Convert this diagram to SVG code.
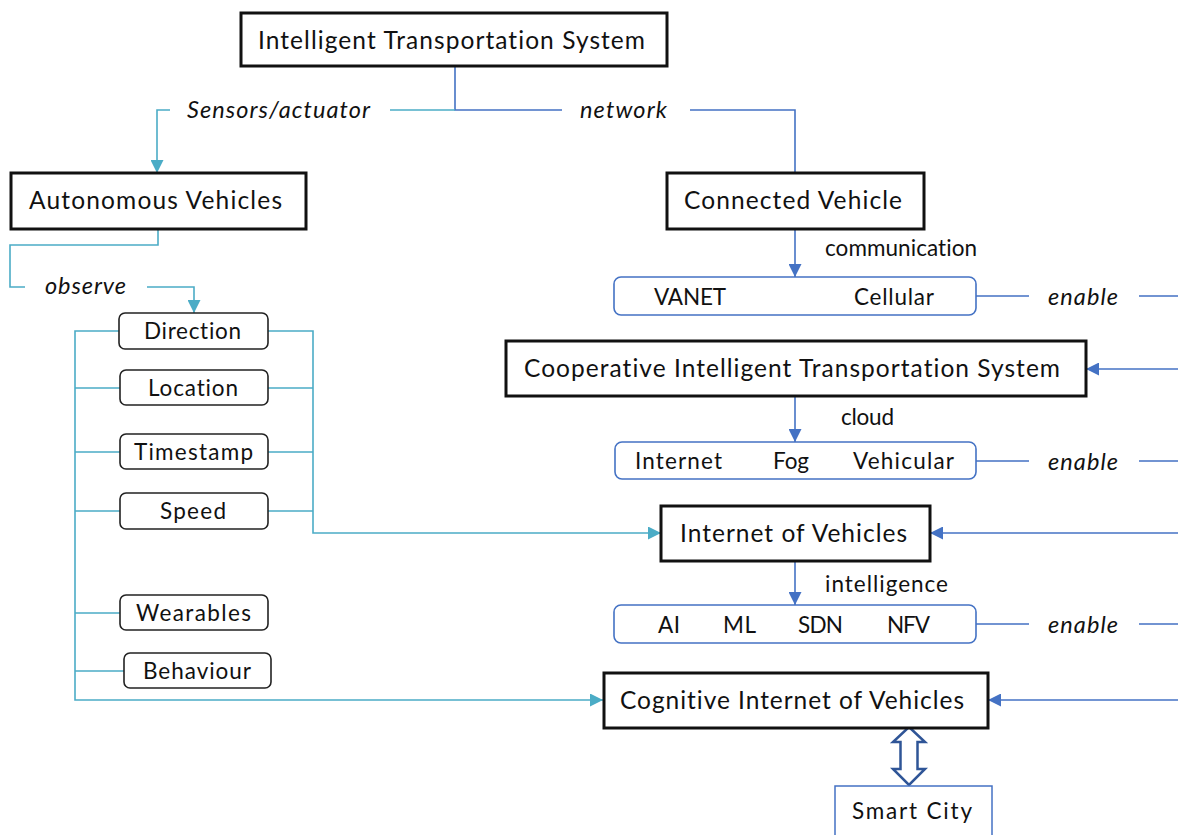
<svg xmlns="http://www.w3.org/2000/svg" width="1178" height="835" viewBox="0 0 1178 835">
<style>
text{font-family:Lato,"Open Sans","Liberation Sans",sans-serif;font-size:22.5px;fill:#111;font-variant-ligatures:none;}
.big{font-size:24.5px;}
.it{font-style:italic;font-size:23.5px;}
.main{fill:#fff;stroke:#111;stroke-width:3;}
.small{fill:#fff;stroke:#222;stroke-width:1.6;}
.bbox{fill:#fff;stroke:#4472C4;stroke-width:1.6;}
.teal{fill:none;stroke:#4BACC6;stroke-width:1.6;}
.blue{fill:none;stroke:#4472C4;stroke-width:1.6;}
</style>
<defs>
<marker id="at" viewBox="0 0 12 12" refX="12" refY="6" markerWidth="13" markerHeight="13" markerUnits="userSpaceOnUse" orient="auto"><path d="M0,0 L12,6 L0,12 z" fill="#4BACC6"/></marker>
<marker id="ab" viewBox="0 0 12 12" refX="12" refY="6" markerWidth="13" markerHeight="13" markerUnits="userSpaceOnUse" orient="auto"><path d="M0,0 L12,6 L0,12 z" fill="#4472C4"/></marker>
</defs>
<rect width="1178" height="835" fill="#fff"/>
<g id="connectors">
<path class="blue" d="M455,66 V110 H562"/>
<path class="blue" d="M690,110 H795 V173"/>
<path class="teal" d="M455,110 H390"/>
<path class="teal" d="M170,110 H157 V173" marker-end="url(#at)"/>
<path class="teal" d="M158,229 V245 H10 V287 H25"/>
<path class="teal" d="M147,287 H194 V313" marker-end="url(#at)"/>
<path class="teal" d="M119,331 H75 V700 H603" marker-end="url(#at)"/>
<path class="teal" d="M75,388 H120 M75,452 H120 M75,511 H120 M75,613 H120 M75,671 H124"/>
<path class="teal" d="M268,331 H313 V533 H661" marker-end="url(#at)"/>
<path class="teal" d="M268,388 H313 M268,452 H313 M268,511 H313"/>
<path class="blue" d="M795,229 V277" marker-end="url(#ab)"/>
<path class="blue" d="M976,296 H1029 M1139,296 H1178"/>
<path class="blue" d="M1178,369 H1086" marker-end="url(#ab)"/>
<path class="blue" d="M795,396 V442" marker-end="url(#ab)"/>
<path class="blue" d="M976,461 H1029 M1139,461 H1178"/>
<path class="blue" d="M1178,533 H930" marker-end="url(#ab)"/>
<path class="blue" d="M795,561 V605" marker-end="url(#ab)"/>
<path class="blue" d="M976,624 H1029 M1139,624 H1178"/>
<path class="blue" d="M1178,700 H988" marker-end="url(#ab)"/>
<polygon points="909,727 925,742 917.5,742 917.5,769 925,769 909,785 893,769 900.5,769 900.5,742 893,742" fill="#fff" stroke="#2F5597" stroke-width="2.5" stroke-linejoin="miter"/>
</g>
<g id="labels">
<text class="it" x="187" y="118" textLength="183">Sensors/actuator</text>
<text class="it" x="580" y="118" textLength="87">network</text>
<text class="it" x="45" y="294" textLength="81">observe</text>
<text x="825" y="256" textLength="152">communication</text>
<text x="841" y="425" textLength="53">cloud</text>
<text x="825" y="592" textLength="123">intelligence</text>
<text class="it" x="1048" y="305" textLength="70">enable</text>
<text class="it" x="1048" y="470" textLength="70">enable</text>
<text class="it" x="1048" y="633" textLength="70">enable</text>
</g>
<g id="its"><rect class="main" x="241" y="13" width="426" height="53"/><text class="big" x="258" y="49" textLength="387">Intelligent Transportation System</text></g>
<g id="av"><rect class="main" x="11" y="173" width="295" height="56"/><text class="big" x="29" y="209" textLength="253">Autonomous Vehicles</text></g>
<g id="cv"><rect class="main" x="667" y="173" width="257" height="56"/><text class="big" x="684" y="209" textLength="218">Connected Vehicle</text></g>
<g id="direction"><rect class="small" x="119" y="313" width="149" height="36" rx="6"/><text x="144" y="339" textLength="97">Direction</text></g>
<g id="location"><rect class="small" x="120" y="370" width="148" height="35" rx="6"/><text x="148" y="396" textLength="90">Location</text></g>
<g id="timestamp"><rect class="small" x="120" y="434" width="148" height="35" rx="6"/><text x="134" y="460" textLength="119">Timestamp</text></g>
<g id="speed"><rect class="small" x="120" y="493" width="148" height="36" rx="6"/><text x="160" y="519" textLength="66">Speed</text></g>
<g id="wearables"><rect class="small" x="120" y="595" width="148" height="35" rx="6"/><text x="136" y="621" textLength="115">Wearables</text></g>
<g id="behaviour"><rect class="small" x="124" y="653" width="147" height="35" rx="6"/><text x="143" y="679" textLength="108">Behaviour</text></g>
<g id="comm"><rect class="bbox" x="614" y="277" width="362" height="38" rx="7"/><text x="654" y="305" textLength="72">VANET</text><text x="854" y="305" textLength="80">Cellular</text></g>
<g id="cits"><rect class="main" x="506" y="341" width="580" height="55"/><text class="big" x="524" y="377" textLength="536">Cooperative Intelligent Transportation System</text></g>
<g id="cloudbox"><rect class="bbox" x="615" y="442" width="361" height="37" rx="7"/><text x="635" y="469" textLength="87">Internet</text><text x="773" y="469" textLength="36">Fog</text><text x="853" y="469" textLength="101">Vehicular</text></g>
<g id="iov"><rect class="main" x="661" y="506" width="269" height="55"/><text class="big" x="680" y="542" textLength="227">Internet of Vehicles</text></g>
<g id="intel"><rect class="bbox" x="614" y="605" width="362" height="38" rx="7"/><text x="658" y="633" textLength="22">AI</text><text x="723" y="633" textLength="33">ML</text><text x="798" y="633" textLength="45">SDN</text><text x="887" y="633" textLength="43">NFV</text></g>
<g id="civ"><rect class="main" x="604" y="673" width="384" height="55"/><text class="big" x="620" y="709" textLength="344">Cognitive Internet of Vehicles</text></g>
<g id="smartcity"><rect x="835" y="786" width="157" height="60" fill="#fff" stroke="#4472C4" stroke-width="1.5"/><text x="852" y="819" textLength="120">Smart City</text></g>
</svg>
